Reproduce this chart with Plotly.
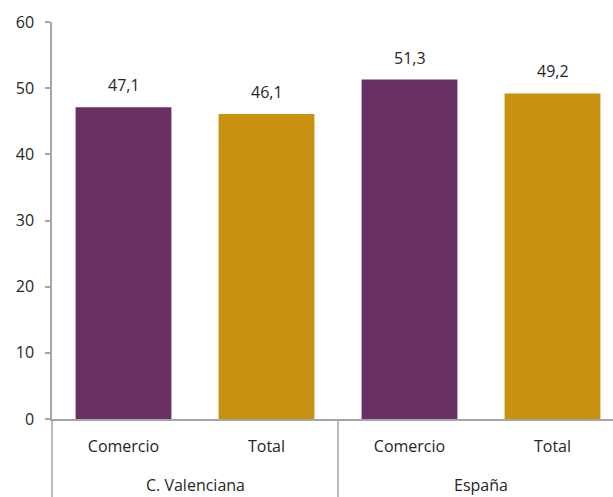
import plotly.graph_objects as go

groups = ["C. Valenciana", "C. Valenciana", "España", "España"]
sublabels = ["Comercio", "Total", "Comercio", "Total"]
values = [47.1, 46.1, 51.3, 49.2]
colors = ["#693063", "#C8910F", "#693063", "#C8910F"]
yticks = [0, 10, 20, 30, 40, 50, 60]

xs = list(range(len(values)))
FONT = "Open Sans, Noto Sans, sans-serif"
TXT = "#262626"
AX = "#A6A6A6"

fig = go.Figure()
fig.add_trace(go.Bar(x=xs, y=values, marker=dict(color=colors, line=dict(width=0)),
                     width=0.67, hoverinfo="skip"))

annotations = []
for x, v in zip(xs, values):
    annotations.append(dict(x=x, y=v, xref="x", yref="y", text=f"{v:.1f}".replace(".", ","),
                            showarrow=False, yanchor="bottom", yshift=9,
                            font=dict(family=FONT, size=16, color=TXT)))
# group labels
uniq = []
for g in groups:
    if g not in uniq:
        uniq.append(g)
for g in uniq:
    idx = [i for i, gg in enumerate(groups) if gg == g]
    annotations.append(dict(x=sum(idx) / len(idx), y=-0.166, xref="x", yref="paper", text=g,
                            showarrow=False, yanchor="middle",
                            font=dict(family=FONT, size=16, color=TXT)))

shapes = [
    dict(type="line", xref="paper", yref="paper", x0=0, x1=0, y0=-0.25, y1=0,
         line=dict(color=AX, width=1.5)),
]
# separator between groups
for i in range(1, len(groups)):
    if groups[i] != groups[i - 1]:
        shapes.append(dict(type="line", xref="x", yref="paper", x0=i - 0.5, x1=i - 0.5,
                           y0=-0.25, y1=0, line=dict(color=AX, width=1.5)))

fig.update_layout(
    width=613, height=497,
    margin=dict(l=52, r=0, t=22, b=78),
    paper_bgcolor="white", plot_bgcolor="white",
    showlegend=False,
    font=dict(family=FONT, size=16, color=TXT),
    annotations=annotations, shapes=shapes,
    xaxis=dict(range=[-0.5, 3.423], tickvals=xs, ticktext=sublabels, showgrid=False,
               zeroline=False, showline=True, linecolor=AX, linewidth=1.5, ticks="",
               ticklabelstandoff=12, tickfont=dict(family=FONT, size=16, color=TXT)),
    yaxis=dict(range=[0, 60], tickvals=yticks, showgrid=False, zeroline=False,
               showline=True, linecolor=AX, linewidth=1.5, ticks="outside", ticklen=5,
               tickcolor=AX, tickwidth=1.5, ticklabelstandoff=8,
               tickfont=dict(family=FONT, size=16, color=TXT)),
)
fig.write_html("out.html", config={"displayModeBar": False},
               post_script="document.body.style.margin='0';document.body.style.overflow='hidden';")
